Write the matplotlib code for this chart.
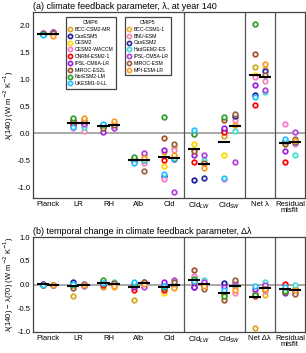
#!/usr/bin/env python3
import numpy as np
import matplotlib.pyplot as plt
from matplotlib.lines import Line2D

plt.rcParams['font.family'] = ['Liberation Sans', 'DejaVu Sans']

# Feedback categories
cats_a = ['Planck', 'LR', 'RH', 'Alb', 'Cld', 'Cld$_{LW}$', 'Cld$_{SW}$',
          'Net λ', 'Residual\nmisfit']
cats_b = ['Planck', 'LR', 'RH', 'Alb', 'Cld', 'Cld$_{LW}$', 'Cld$_{SW}$',
          'Net Δλ', 'Residual\nmisfit']

models6 = ['BCC-CSM2-MR', 'CanESM5', 'CESM2', 'CESM2-WACCM', 'CNRM-ESM2-1',
           'IPSL-CM6A-LR', 'MIROC-ES2L', 'NorESM2-LM', 'UKESM1-0-LL']
colors6 = ['#DAA520', '#1A1AA0', '#FFD700', '#FF78C8', '#FF0000',
           '#9A20E0', '#A0522D', '#2CA02C', '#1EC0FF']

models5 = ['BCC-CSM1-1', 'BNU-ESM', 'CanESM2', 'HadGEM2-ES', 'IPSL-CM5A-LR',
           'MIROC-ESM', 'MPI-ESM-LR']
colors5 = ['#F0B030', '#F088C0', '#2A2AA0', '#40E0D0', '#B040E0',
           '#9A6040', '#FF9A20']

# lambda at year 140, one row per model, columns follow cats_a
lam6 = [
    [1.86, 0.22, 0.15, -0.45, -0.35, -0.30, -0.05, 1.23, -0.18],
    [1.85, 0.15, 0.16, -0.52, -0.80, -0.87, 0.07, 0.72, -0.15],
    [1.85, 0.20, 0.14, -0.47, -0.60, -0.20, -0.40, 1.08, -0.20],
    [1.84, 0.10, 0.12, -0.53, -0.85, -0.02, -0.84, 1.05, 0.17],
    [1.85, 0.18, 0.13, -0.48, -0.50, -0.53, 0.03, 0.53, -0.53],
    [1.86, 0.22, 0.03, -0.50, -0.30, -0.40, 0.10, 0.90, -0.33],
    [1.85, 0.25, 0.10, -0.50, -0.08, -0.33, 0.25, 1.47, -0.20],
    [1.84, 0.28, 0.15, -0.43, 0.31, -0.02, 0.30, 2.03, -0.15],
    [1.83, 0.12, 0.18, -0.55, -0.76, 0.07, -0.83, 0.67, -0.10],
]
lam5 = [
    [1.85, 0.27, 0.20, -0.40, -0.25, -0.55, 0.30, 1.20, -0.18],
    [1.84, 0.05, 0.10, -0.55, -0.30, -0.55, 0.25, 0.97, -0.20],
    [1.87, 0.18, 0.15, -0.50, -0.48, -0.82, 0.32, 1.15, -0.17],
    [1.85, 0.12, 0.12, -0.50, -0.45, -0.50, 0.05, 0.77, -0.40],
    [1.88, 0.17, 0.10, -0.36, -1.08, -0.40, -0.53, 0.80, 0.02],
    [1.86, 0.22, 0.15, -0.70, -0.20, -0.55, 0.35, 1.08, -0.10],
    [1.80, 0.28, 0.22, -0.45, -0.40, -0.65, 0.15, 1.28, -0.15],
]

# change lambda(140) - lambda(70)
dlam6 = [
    [0.00, -0.25, -0.05, -0.33, -0.05, 0.15, -0.22, -0.92, -0.10],
    [0.01, 0.05, 0.03, -0.02, 0.00, -0.05, 0.03, -0.20, -0.12],
    [0.00, -0.02, 0.02, -0.03, -0.17, 0.10, -0.28, -0.20, -0.10],
    [0.00, -0.01, 0.04, -0.02, -0.03, 0.18, -0.15, -0.15, -0.12],
    [0.00, 0.00, 0.00, -0.12, -0.12, 0.05, -0.18, -0.25, 0.02],
    [0.01, -0.03, 0.05, -0.05, 0.05, -0.05, -0.05, -0.10, -0.17],
    [-0.01, -0.07, 0.02, 0.00, -0.08, 0.30, -0.33, -0.23, -0.15],
    [0.00, -0.02, 0.10, 0.02, -0.05, 0.12, -0.25, -0.22, -0.13],
    [0.00, 0.02, 0.03, 0.05, -0.03, 0.08, -0.12, -0.03, -0.05],
]
dlam5 = [
    [0.00, 0.00, -0.05, 0.03, -0.05, 0.00, -0.05, -0.22, -0.15],
    [0.00, -0.02, 0.00, 0.02, -0.03, 0.03, -0.18, -0.13, -0.12],
    [0.00, 0.02, 0.03, 0.05, 0.00, -0.03, -0.02, -0.05, -0.10],
    [0.00, 0.00, 0.05, 0.04, -0.02, 0.10, 0.00, 0.05, 0.00],
    [0.00, -0.03, 0.02, -0.05, 0.10, 0.05, 0.05, 0.00, -0.15],
    [0.00, -0.02, 0.03, 0.05, 0.05, -0.10, 0.10, -0.10, -0.20],
    [0.00, 0.00, -0.03, 0.02, -0.08, -0.03, -0.12, -0.10, -0.12],
]

fig = plt.figure(figsize=(3.06, 3.53), dpi=100)
ax_a = fig.add_axes([0.108, 0.439, 0.889, 0.527])
ax_b = fig.add_axes([0.108, 0.0595, 0.889, 0.269])

x = np.arange(1, 10)
off = 0.17


def panel(ax, d6, d5, cats, ylim, yticks, title, ylabel):
    ax.axhline(0, color='#999999', lw=1.2, zorder=1)
    for xv in [5.5, 7.5, 8.5]:
        ax.axvline(xv, color='#555555', lw=0.9, zorder=1)
    for vals, c in zip(d6, colors6):
        ax.plot(x - off, vals, 'o', ls='none', ms=3.3, mfc='white', mec=c,
                mew=1.25, zorder=3)
    for vals, c in zip(d5, colors5):
        ax.plot(x + off, vals, 'o', ls='none', ms=3.3, mfc='white', mec=c,
                mew=1.25, zorder=3)
    # ensemble means as short black bars
    m6 = np.mean(d6, axis=0)
    m5 = np.mean(d5, axis=0)
    ax.hlines(m6, x - off - 0.2, x - off + 0.2, color='black', lw=1.5, zorder=4)
    ax.hlines(m5, x + off - 0.2, x + off + 0.2, color='black', lw=1.5, zorder=4)
    ax.set_xlim(0.5, 9.5)
    ax.set_ylim(*ylim)
    ax.set_xticks(x)
    ax.set_xticklabels(cats, fontsize=5.5, linespacing=0.9)
    ax.set_yticks(yticks)
    ax.set_yticklabels(['%.1f' % v for v in yticks], fontsize=5.5)
    ax.tick_params(length=0, pad=2)
    ax.set_title(title, fontsize=6.5, loc='left', pad=2)
    ax.set_ylabel(ylabel, fontsize=5.5, labelpad=1)
    for s in ax.spines.values():
        s.set_color('#444444')
        s.set_linewidth(0.9)


panel(ax_a, lam6, lam5, cats_a, (-1.2, 2.25),
      [-1.0, -0.5, 0.0, 0.5, 1.0, 1.5, 2.0],
      '(a) climate feedback parameter, λ, at year 140',
      'λ(140) (W m$^{-2}$ K$^{-1}$)')
panel(ax_b, dlam6, dlam5, cats_b, (-1.0, 1.0),
      [-1.0, -0.5, 0.0, 0.5, 1.0],
      '(b) temporal change in climate feedback parameter, Δλ',
      'λ(140) − λ(70) (W m$^{-2}$ K$^{-1}$)')

# legends
h6 = [Line2D([], [], marker='o', ls='none', ms=3.0, mfc='white', mec=c,
             mew=1.2, label=m) for m, c in zip(models6, colors6)]
h5 = [Line2D([], [], marker='o', ls='none', ms=3.0, mfc='white', mec=c,
             mew=1.2, label=m) for m, c in zip(models5, colors5)]
leg6 = ax_a.legend(handles=h6, title='CMIP6', loc='upper left',
                   bbox_to_anchor=(0.11, 0.985), fontsize=3.7,
                   title_fontsize=3.7, fancybox=False, edgecolor='#444444',
                   handlelength=0.8, handletextpad=0.4, labelspacing=0.35,
                   borderpad=0.5, framealpha=1)
leg6.get_frame().set_linewidth(0.9)
ax_a.add_artist(leg6)
leg5 = ax_a.legend(handles=h5, title='CMIP5', loc='upper left',
                   bbox_to_anchor=(0.327, 0.985), fontsize=3.7,
                   title_fontsize=3.7, fancybox=False, edgecolor='#444444',
                   handlelength=0.8, handletextpad=0.4, labelspacing=0.35,
                   borderpad=0.5, framealpha=1)
leg5.get_frame().set_linewidth(0.9)

fig.savefig('out.png', dpi=100)
